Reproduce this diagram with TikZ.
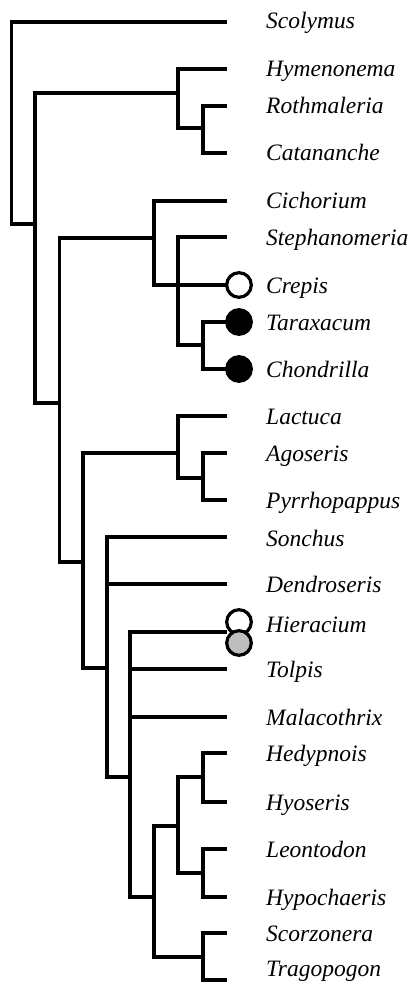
\documentclass[tikz,border=0pt]{standalone}
\usepackage{fontspec}
\setmainfont{Liberation Serif}
\definecolor{markgray}{RGB}{190,190,190}
\tikzset{
  branch/.style={line width=3.2pt, line join=miter, line cap=butt},
  taxon/.style={anchor=base west, inner sep=0pt, font=\itshape\fontsize{23.5}{26}\selectfont},
  charmark/.style={circle, draw, line width=3.2pt, minimum size=24.6pt, inner sep=0pt},
  openmark/.style={charmark, fill=white},
  fullmark/.style={charmark, fill=black},
  graymark/.style={charmark, fill=markgray}
}
\begin{document}
\begin{tikzpicture}[x=1pt,y=-1pt]
\useasboundingbox (0,0) rectangle (416,984);
% leaf tips
\foreach \n/\y in {sco/22,hym/69,rot/106,cat/153,cic/201,ste/237,cre/285,tar/322,cho/369,lac/416,ago/453,pyr/500,son/537,den/584,hie/632,tol/669,mal/717,hed/753,hyo/802,leo/849,hyp/897,scz/933,tra/980}
  \coordinate (\n) at (227,\y);
% internal nodes
\coordinate (root) at (11.5,224);
\coordinate (A) at (35,224);
\coordinate (N1) at (178,93);
\coordinate (N2) at (203,128);
\coordinate (B) at (59.5,403);
\coordinate (N3) at (154,238);
\coordinate (N4) at (178,285);
\coordinate (N5) at (203,345);
\coordinate (C) at (83,562);
\coordinate (N6) at (178,453);
\coordinate (N7) at (203,478);
\coordinate (D) at (107,668);
\coordinate (E) at (130,777);
\coordinate (F) at (154,897);
\coordinate (G) at (178,826);
\coordinate (N8) at (203,777);
\coordinate (N9) at (203,873);
\coordinate (N10) at (203,957);
% branches
\draw[branch] (sco) -| (root) -- (A);
\draw[branch] (N1) -| (A) |- (B);
\draw[branch] (hym) -| (N1) |- (N2);
\draw[branch] (rot) -| (N2) |- (cat);
\draw[branch] (N3) -| (B) |- (C);
\draw[branch] (cic) -| (N3) |- (N4);
\draw[branch] (ste) -| (N4) |- (N5);
\draw[branch] (N4) -- (cre);
\draw[branch] (tar) -| (N5) |- (cho);
\draw[branch] (N6) -| (C) |- (D);
\draw[branch] (lac) -| (N6) |- (N7);
\draw[branch] (ago) -| (N7) |- (pyr);
\draw[branch] (son) -| (D) |- (E);
\draw[branch] (D |- den) -- (den);
\draw[branch] (hie) -| (E) |- (F);
\draw[branch] (E |- tol) -- (tol);
\draw[branch] (E |- mal) -- (mal);
\draw[branch] (G) -| (F) |- (N10);
\draw[branch] (N8) -| (G) |- (N9);
\draw[branch] (hed) -| (N8) |- (hyo);
\draw[branch] (leo) -| (N9) |- (hyp);
\draw[branch] (scz) -| (N10) |- (tra);
% character marks
\node[openmark] (creM) at (239,285) {};
\node[fullmark] (tarM) at (239,322) {};
\node[fullmark] (choM) at (239,369) {};
\node[openmark] (hieM) at (239,622) {};
\node[graymark] (hieG) at (239,643) {};
% labels
\foreach \n/\t/\y in {sco/Scolymus/29,hym/Hymenonema/77,rot/Rothmaleria/114,cat/Catananche/161,cic/Cichorium/209,ste/Stephanomeria/245,cre/Crepis/293,tar/Taraxacum/330,cho/Chondrilla/377,lac/Lactuca/424,ago/Agoseris/461,pyr/Pyrrhopappus/508,son/Sonchus/546,den/Dendroseris/592,hie/Hieracium/632,tol/Tolpis/677,mal/Malacothrix/725,hed/Hedypnois/761,hyo/Hyoseris/810,leo/Leontodon/857,hyp/Hypochaeris/905,scz/Scorzonera/941,tra/Tragopogon/976}
  \node[taxon] (\n L) at (266,\y) {\t};
\end{tikzpicture}
\end{document}
